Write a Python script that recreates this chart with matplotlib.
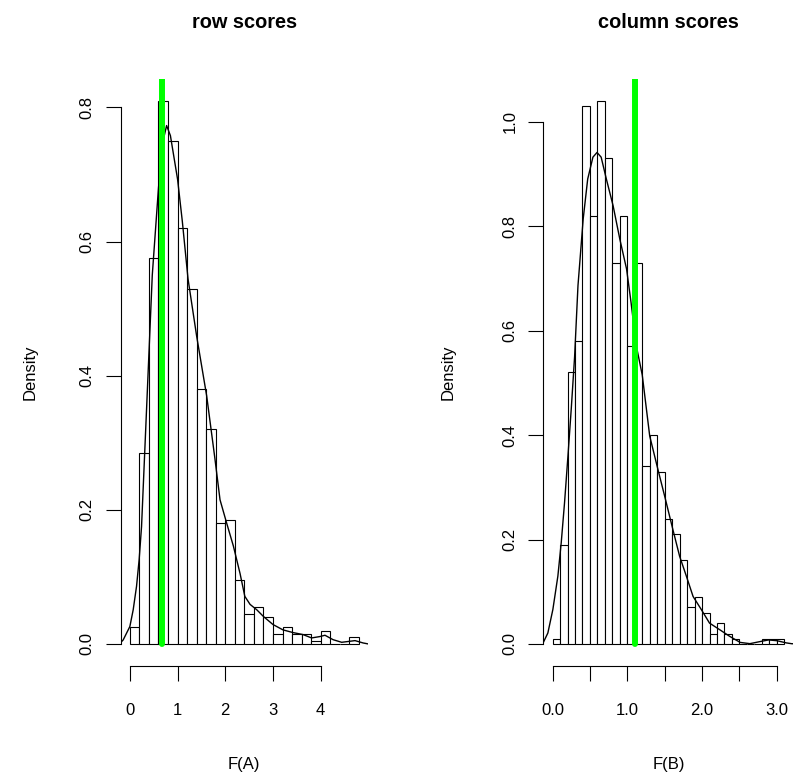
import numpy as np
import matplotlib
matplotlib.use("Agg")
import matplotlib.pyplot as plt

plt.rcParams['font.family'] = ['Liberation Sans', 'DejaVu Sans']

# row scores F(A): histogram (density), bins of 0.2
row_breaks = [0.0, 0.2, 0.4, 0.6, 0.8, 1.0, 1.2, 1.4, 1.6, 1.8, 2.0, 2.2, 2.4,
              2.6, 2.8, 3.0, 3.2, 3.4, 3.6, 3.8, 4.0, 4.2, 4.4, 4.6, 4.8]
row_density = [0.025, 0.285, 0.575, 0.81, 0.75, 0.62, 0.53, 0.38, 0.32, 0.18,
               0.185, 0.095, 0.045, 0.055, 0.04, 0.015, 0.025, 0.015, 0.015,
               0.005, 0.02, 0.0, 0.0, 0.01]
# kernel density curve
row_kde_x = [-0.3, -0.195, -0.14, 0.0, 0.07, 0.14, 0.195, 0.245, 0.29, 0.38,
             0.47, 0.6, 0.68, 0.77, 0.85, 1.0, 1.1, 1.22, 1.4, 1.61, 1.78,
             1.89, 2.03, 2.17, 2.31, 2.41, 2.52, 2.66, 2.8, 3.0, 3.21, 3.42,
             3.63, 3.81, 3.98, 4.09, 4.26, 4.44, 4.61, 4.72, 4.89, 5.0, 5.1]
row_kde_y = [0.0, 0.002, 0.006, 0.026, 0.051, 0.086, 0.126, 0.175, 0.25, 0.40,
             0.55, 0.68, 0.745, 0.773, 0.758, 0.693, 0.63, 0.544, 0.459, 0.37,
             0.278, 0.215, 0.18, 0.146, 0.105, 0.071, 0.059, 0.051, 0.041,
             0.029, 0.021, 0.017, 0.014, 0.009, 0.011, 0.013, 0.0064, 0.0025,
             0.004, 0.005, 0.0015, 0.0, 0.0]
row_mark = 0.68

# column scores F(B): histogram (density), bins of 0.1
col_breaks = [0.0, 0.1, 0.2, 0.3, 0.4, 0.5, 0.6, 0.7, 0.8, 0.9, 1.0, 1.1, 1.2,
              1.3, 1.4, 1.5, 1.6, 1.7, 1.8, 1.9, 2.0, 2.1, 2.2, 2.3, 2.4, 2.5,
              2.6, 2.7, 2.8, 2.9, 3.0, 3.1]
col_density = [0.01, 0.19, 0.52, 0.58, 1.03, 0.82, 1.04, 0.93, 0.73, 0.82,
               0.57, 0.73, 0.34, 0.40, 0.33, 0.24, 0.21, 0.16, 0.07, 0.09,
               0.06, 0.02, 0.04, 0.02, 0.01, 0.0, 0.0, 0.0, 0.01, 0.01, 0.01]
col_kde_x = [-0.2, -0.13, -0.063, 0.004, 0.071, 0.116, 0.16, 0.206, 0.25,
             0.295, 0.34, 0.41, 0.47, 0.54, 0.595, 0.65, 0.72, 0.81, 0.9, 0.99,
             1.05, 1.12, 1.2, 1.3, 1.41, 1.5, 1.61, 1.7, 1.79, 1.88, 1.99, 2.1,
             2.24, 2.37, 2.51, 2.64, 2.77, 2.89, 3.0, 3.13, 3.2, 3.3]
col_kde_y = [0.0, 0.001, 0.021, 0.066, 0.13, 0.194, 0.27, 0.36, 0.45, 0.55,
             0.686, 0.814, 0.89, 0.932, 0.941, 0.932, 0.89, 0.839, 0.775,
             0.718, 0.654, 0.571, 0.515, 0.398, 0.334, 0.283, 0.219, 0.168,
             0.13, 0.091, 0.066, 0.04, 0.027, 0.0146, 0.003, 0.0006, 0.0044,
             0.0077, 0.0063, 0.002, 0.0005, 0.0]
col_mark = 1.1

W, H = 795, 783
fig = plt.figure(figsize=(W / 100, H / 100), dpi=100)


def px_axes(x0, x1, y0, y1):
    return fig.add_axes([x0 / W, 1 - y1 / H, (x1 - x0) / W, (y1 - y0) / H])


def r_hist(ax, breaks, dens, kx, ky, mark, xlim, ylim, xticks, xlabels,
           yticks, title, xlab):
    b = np.array(breaks)
    ax.bar(b[:-1], dens, width=np.diff(b), align='edge', color='white',
           edgecolor='black', linewidth=0.8)
    ax.plot(kx, ky, color='black', linewidth=1.0)
    ax.plot([mark, mark], [0, ylim[1] * 2], color='#00ff00', linewidth=4.3,
            solid_capstyle='round')
    ax.set_xlim(xlim)
    ax.set_ylim(ylim)
    for s in ['top', 'right']:
        ax.spines[s].set_visible(False)
    ax.spines['left'].set_bounds(yticks[0], yticks[-1])
    ax.spines['bottom'].set_bounds(xticks[0], xticks[-1])
    ax.spines['left'].set_linewidth(0.8)
    ax.spines['bottom'].set_linewidth(0.8)
    ax.set_xticks(xticks)
    ax.set_xticklabels(xlabels)
    ax.set_yticks(yticks)
    ax.set_yticklabels(['%.1f' % v for v in yticks], rotation=90, va='center')
    ax.tick_params(direction='out', length=10.6, width=0.8, labelsize=12)
    ax.tick_params(axis='x', pad=16)
    ax.tick_params(axis='y', pad=8)
    pos = ax.get_position()
    cx = (pos.x0 + pos.x1) / 2
    fig.text(cx, 1 - 22 / H, title, ha='center', va='center',
             fontsize=14.4, fontweight='bold')
    fig.text(cx, 1 - 765 / H, xlab, ha='center', va='center', fontsize=12)


ax1 = px_axes(120.7, 368, 79, 665.7)
r_hist(ax1, row_breaks, row_density, row_kde_x, row_kde_y, row_mark,
       (-0.192, 4.992), (-0.0324, 0.8424), [0, 1, 2, 3, 4],
       ['0', '1', '2', '3', '4'], [0.0, 0.2, 0.4, 0.6, 0.8],
       'row scores', 'F(A)')
fig.text(30 / W, 1 - 372 / H, 'Density', rotation=90, ha='center',
         va='center', fontsize=12)

ax2 = px_axes(543.3, 793.5, 79, 665.7)
r_hist(ax2, col_breaks, col_density, col_kde_x, col_kde_y, col_mark,
       (-0.124, 3.224), (-0.0416, 1.0816), [0, 0.5, 1, 1.5, 2, 2.5, 3],
       ['0.0', '', '1.0', '', '2.0', '', '3.0'],
       [0.0, 0.2, 0.4, 0.6, 0.8, 1.0], 'column scores', 'F(B)')
fig.text(448 / W, 1 - 372 / H, 'Density', rotation=90, ha='center',
         va='center', fontsize=12)

fig.savefig('out.png', dpi=100)
